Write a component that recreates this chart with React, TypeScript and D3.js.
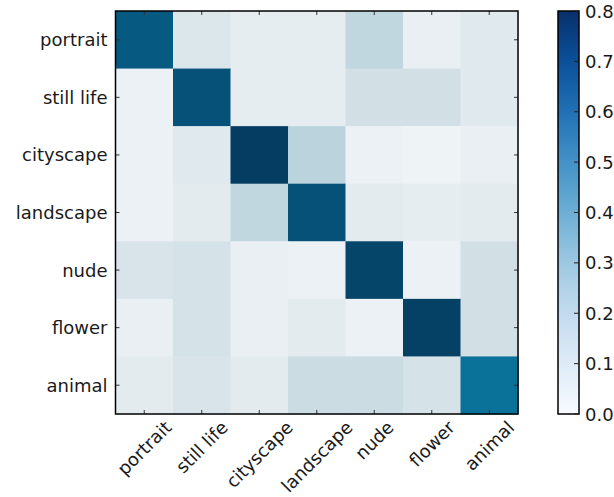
import React, { useEffect, useRef } from "react";
import * as d3 from "d3";

const categories = ["portrait", "still life", "cityscape", "landscape", "nude", "flower", "animal"];

const rowPortrait = [0.69, 0.07, 0.04, 0.04, 0.15, 0.03, 0.06];
const rowStillLife = [0.02, 0.72, 0.04, 0.04, 0.10, 0.10, 0.06];
const rowCityscape = [0.02, 0.06, 0.80, 0.17, 0.02, 0.01, 0.03];
const rowLandscape = [0.02, 0.05, 0.15, 0.72, 0.05, 0.04, 0.05];
const rowNude = [0.08, 0.09, 0.03, 0.02, 0.77, 0.02, 0.10];
const rowFlower = [0.03, 0.09, 0.03, 0.05, 0.02, 0.79, 0.10];
const rowAnimal = [0.05, 0.08, 0.05, 0.12, 0.12, 0.09, 0.60];

const matrix = [rowPortrait, rowStillLife, rowCityscape, rowLandscape, rowNude, rowFlower, rowAnimal];

const colorbarTicks = [0.0, 0.1, 0.2, 0.3, 0.4, 0.5, 0.6, 0.7, 0.8];

const W = 614;
const H = 497;

export default function App() {
  const ref = useRef<SVGSVGElement | null>(null);

  useEffect(() => {
    const svg = d3.select(ref.current);
    svg.selectAll("*").remove();
    const font = "'DejaVu Sans', sans-serif";
    const fs = 18;
    const txt = "#1a1a1a";

    const left = 115.5, right = 518, top = 11, bottom = 414;
    const x = d3.scaleBand<string>().domain(categories).range([left, right]).padding(0);
    const y = d3.scaleBand<string>().domain(categories).range([top, bottom]).padding(0);

    const color = d3
      .scaleLinear<string>()
      .domain([0, 0.05, 0.1, 0.17, 0.4, 0.6, 0.7, 0.8])
      .range(["#f1f5f8", "#e3ebef", "#d2e0e6", "#bad3dc", "#5a9ab8", "#0a7198", "#05567e", "#053d62"])
      .interpolate(d3.interpolateRgb)
      .clamp(true);

    const cells = matrix.flatMap((row, i) => row.map((v, j) => ({ r: categories[i], c: categories[j], v })));
    svg
      .append("g")
      .selectAll("rect")
      .data(cells)
      .join("rect")
      .attr("x", (d) => x(d.c)!)
      .attr("y", (d) => y(d.r)!)
      .attr("width", x.bandwidth() + 0.5)
      .attr("height", y.bandwidth() + 0.5)
      .attr("fill", (d) => color(d.v));

    const tk = 4;
    const tg = svg.append("g").attr("stroke", "#333").attr("stroke-width", 1);
    categories.forEach((c) => {
      const cx = x(c)! + x.bandwidth() / 2;
      const cy = y(c)! + y.bandwidth() / 2;
      tg.append("line").attr("x1", cx).attr("x2", cx).attr("y1", top).attr("y2", top + tk);
      tg.append("line").attr("x1", cx).attr("x2", cx).attr("y1", bottom).attr("y2", bottom - tk);
      tg.append("line").attr("x1", left).attr("x2", left + tk).attr("y1", cy).attr("y2", cy);
      tg.append("line").attr("x1", right).attr("x2", right - tk).attr("y1", cy).attr("y2", cy);
    });

    svg
      .append("rect")
      .attr("x", left)
      .attr("y", top)
      .attr("width", right - left)
      .attr("height", bottom - top)
      .attr("fill", "none")
      .attr("stroke", "#000")
      .attr("stroke-width", 1.5);

    svg
      .append("g")
      .selectAll("text")
      .data(categories)
      .join("text")
      .attr("x", left - 8)
      .attr("y", (d) => y(d)! + y.bandwidth() / 2)
      .attr("text-anchor", "end")
      .attr("dominant-baseline", "central")
      .attr("font-family", font)
      .attr("font-size", fs)
      .attr("fill", txt)
      .text((d) => d);

    const xl = svg.append("g");
    categories.forEach((c) => {
      const cx = x(c)! + x.bandwidth() / 2;
      const t = xl
        .append("text")
        .attr("text-anchor", "middle")
        .attr("dominant-baseline", "central")
        .attr("font-family", font)
        .attr("font-size", fs)
        .attr("fill", txt)
        .text(c);
      const w = (t.node() as SVGTextElement).getComputedTextLength();
      const h = fs * 0.95;
      const half = ((w + h) * Math.SQRT1_2) / 2;
      const cyy = bottom + 4 + half;
      t.attr("transform", `translate(${cx},${cyy}) rotate(-45)`);
    });

    const cbL = 558, cbR = 579;
    const cy = d3.scaleLinear().domain([0, 0.8]).range([bottom, top]);
    const defs = svg.append("defs");
    const grad = defs
      .append("linearGradient")
      .attr("id", "cbgrad")
      .attr("x1", 0)
      .attr("x2", 0)
      .attr("y1", 1)
      .attr("y2", 0);
    d3.range(0, 1.0001, 0.05).forEach((t) => {
      grad.append("stop").attr("offset", t).attr("stop-color", d3.interpolateBlues(t));
    });
    svg
      .append("rect")
      .attr("x", cbL)
      .attr("y", top)
      .attr("width", cbR - cbL)
      .attr("height", bottom - top)
      .attr("fill", "url(#cbgrad)")
      .attr("stroke", "#000")
      .attr("stroke-width", 1.5);
    const cg = svg.append("g");
    colorbarTicks.forEach((v) => {
      const yy = cy(v);
      cg.append("line")
        .attr("x1", cbR)
        .attr("x2", cbR - 5)
        .attr("y1", yy)
        .attr("y2", yy)
        .attr("stroke", "#222")
        .attr("stroke-width", 1);
      cg.append("text")
        .attr("x", cbR + 6)
        .attr("y", yy)
        .attr("dominant-baseline", "central")
        .attr("font-family", font)
        .attr("font-size", fs)
        .attr("fill", txt)
        .text(d3.format(".1f")(v));
    });
  }, []);

  return (
    <svg
      ref={ref}
      width={W}
      height={H}
      style={{ position: "absolute", left: 0, top: 0, background: "#fff" }}
    />
  );
}
